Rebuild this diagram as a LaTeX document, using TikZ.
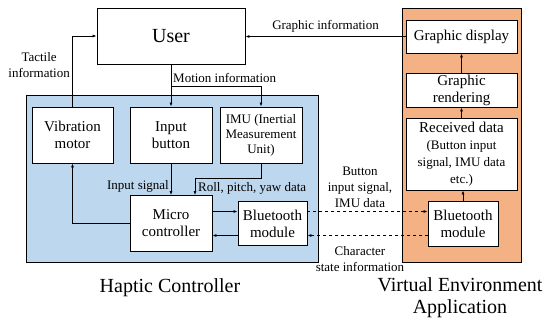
\documentclass[tikz,border=0pt]{standalone}
\usepackage{fontspec}
\setmainfont{Liberation Serif}
\usetikzlibrary{arrows.meta}

\definecolor{hapblue}{RGB}{189,215,238}
\definecolor{venvorange}{RGB}{244,177,131}

\newcommand{\smalltxt}{\fontsize{13}{15}\selectfont}

\tikzset{
  block/.style={draw, line width=0.9pt, fill=white, align=center, inner sep=1pt,
    font=\fontsize{15}{17}\selectfont},
  group/.style={draw, line width=0.8pt, inner sep=0pt},
  lbl/.style={align=center, inner sep=1pt, font=\fontsize{13}{16}\selectfont},
  title/.style={align=center, inner sep=0pt, font=\fontsize{20}{22}\selectfont},
  arr/.style={line width=0.7pt, -{Latex[length=4pt,width=3pt]}},
}

\begin{document}
\begin{tikzpicture}[x=1pt, y=-1pt]
  \useasboundingbox (0,0) rectangle (553,321);

  % Containers
  \node[group, fill=hapblue, minimum width=292, minimum height=167] (haptic) at (172,178.5) {};
  \node[group, fill=venvorange, minimum width=119, minimum height=254] (venv) at (461.5,135) {};

  % User
  \node[block, minimum width=148, minimum height=56, font=\fontsize{20}{22}\selectfont] (user) at (171,36) {User};

  % Haptic controller blocks
  \node[block, minimum width=81, minimum height=56] (vib) at (72.5,135) {Vibration\\motor};
  \node[block, minimum width=82, minimum height=56] (btn) at (171,135) {Input\\button};
  \node[block, minimum width=82, minimum height=56, font=\smalltxt] (imu) at (261,135) {IMU (Inertial\\Measurement\\Unit)};
  \node[block, minimum width=82, minimum height=56] (mcu) at (171,223.5) {Micro\\controller};
  \node[block, minimum width=69, minimum height=44] (btl) at (272.5,223.5) {Bluetooth\\module};

  % Virtual environment blocks
  \node[block, minimum width=111, minimum height=33] (disp) at (461.5,36.5) {Graphic display};
  \node[block, minimum width=111, minimum height=34] (rend) at (461.5,90) {Graphic\\rendering};
  \node[block, minimum width=111, minimum height=72] (recv) at (461.5,154)
    {Received data\\\smalltxt (Button input\\\smalltxt signal, IMU data\\\smalltxt etc.)};
  \node[block, minimum width=70, minimum height=45] (btr) at (463,223.5) {Bluetooth\\module};

  % Tactile and motion paths
  \draw[arr] (vib.north) |- (user.west);
  \node[lbl, anchor=east] (tactile) at (71,65) {Tactile\\information};
  \coordinate (motion) at (171,86);
  \draw[arr] (user.south) -- (btn.north);
  \draw[arr] (motion) -| (imu.north);
  \node[lbl, anchor=south west] (motionlbl) at (172,84) {Motion information};

  % Inside the controller
  \draw[arr] (btn.south) -- (mcu.north);
  \node[lbl, anchor=east] (inlbl) at (170,186) {Input signal};
  \coordinate (rpy) at (195,178);
  \draw[arr] (imu.south) |- (rpy) -- (rpy |- mcu.north);
  \node[lbl, anchor=west] (rpylbl) at (197,188) {Roll, pitch, yaw data};
  \draw[arr] (mcu.west) -| (vib.south);
  \draw[arr] ([yshift=12pt]mcu.east) -- ([yshift=12pt]btl.west);
  \draw[arr] ([yshift=-12pt]btl.west) -- ([yshift=-12pt]mcu.east);

  % Wireless link
  \draw[arr, dashed] ([yshift=12pt]btl.east) -- ([yshift=12pt]btr.west);
  \draw[arr, dashed] ([yshift=-12pt]btr.west) -- ([yshift=-12pt]btl.east);
  \node[lbl] (uplbl) at (360,187) {Button\\input signal,\\IMU data};
  \node[lbl] (downlbl) at (360,259) {Character\\state information};

  % Rendering chain
  \draw[arr] (btr.north) -- (btr.north |- recv.south);
  \draw[arr] (recv.north) -- (rend.south);
  \draw[arr] (rend.north) -- (disp.south);
  \draw[arr] (disp.west) -- (disp.west -| user.east)
    node[lbl, midway, above=3pt] (gfxlbl) {Graphic information};

  % Titles
  \node[title] (haptitle) at (170,288) {Haptic Controller};
  \node[title] (venvtitle) at (460,297.5) {Virtual Environment\\Application};
\end{tikzpicture}
\end{document}
